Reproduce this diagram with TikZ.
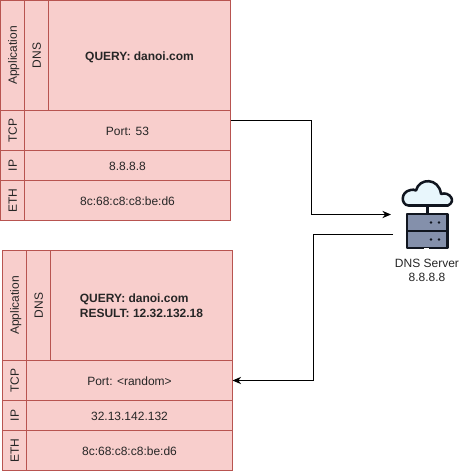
\documentclass[tikz,border=0pt]{standalone}
\usepackage{fontspec}
\setmainfont{Liberation Sans}
\usetikzlibrary{positioning}
\usetikzlibrary{arrows.meta}
\definecolor{cellfill}{HTML}{F8CECC}
\definecolor{celldraw}{HTML}{B85450}
\definecolor{rackfill}{HTML}{8490AB}
\definecolor{cloudfill}{HTML}{E8F6FC}
\definecolor{iconline}{HTML}{10151F}
\tikzset{
  cell/.style 2 args={draw=celldraw, fill=cellfill, line width=0.75pt, inner sep=0pt, outer sep=0pt, anchor=north west, minimum width=#1*0.75pt, minimum height=#2*0.75pt, font=\fontsize{9}{10.5}\selectfont, text=black!85, text height=9pt, text depth=2.25pt},
  vtext/.style={rotate=90, font=\fontsize{9}{10.5}\selectfont, text=black!85, inner sep=0pt, text height=8pt, text depth=1.5pt},
  link/.style={draw=black, line width=0.75pt, -{Stealth[length=6.5pt,width=5.5pt]}},
  iconstroke/.style={draw=iconline, line width=1.9pt, line join=round}
}
\begin{document}
\begin{tikzpicture}[x=0.75pt, y=-0.75pt]
\useasboundingbox (0,0) rectangle (463,471);

% query stack
\node[cell={24}{110}] (appA) at (0.5,0.5) {};
\node[cell={24}{110}] (dnsA) at (24.5,0.5) {};
\node[cell={182}{110}, font=\fontsize{9}{10.5}\selectfont\bfseries] (msgA) at (48.5,0.5) {QUERY: danoi.com};
\node[cell={24}{40}] (tcpA) at (0.5,110.5) {};
\node[cell={206}{40}] (portA) at (24.5,110.5) {Port: 53};
\node[cell={24}{30}] (ipA) at (0.5,150.5) {};
\node[cell={206}{30}] (addrA) at (24.5,150.5) {8.8.8.8};
\node[cell={24}{40}] (ethA) at (0.5,180.5) {};
\node[cell={206}{40}] (macA) at (24.5,180.5) {8c:68:c8:c8:be:d6};

% side labels
\node[vtext] at (appA.center) {Application};
\node[vtext] at (dnsA.center) {DNS};
\node[vtext] at (tcpA.center) {TCP};
\node[vtext] at (ipA.center) {IP};
\node[vtext] at (ethA.center) {ETH};

% answer stack
\node[cell={24}{110}] (appB) at (2.5,250.5) {};
\node[cell={24}{110}] (dnsB) at (26.5,250.5) {};
\node[cell={182}{110}, font=\fontsize{9}{11}\selectfont\bfseries, align=left, text height=, text depth=] (msgB) at (50.5,250.5) {QUERY: danoi.com\\RESULT: 12.32.132.18};
\node[cell={24}{40}] (tcpB) at (2.5,360.5) {};
\node[cell={206}{40}] (portB) at (26.5,360.5) {Port: <random>};
\node[cell={24}{30}] (ipB) at (2.5,400.5) {};
\node[cell={206}{30}] (addrB) at (26.5,400.5) {32.13.142.132};
\node[cell={24}{40}] (ethB) at (2.5,430.5) {};
\node[cell={206}{40}] (macB) at (26.5,430.5) {8c:68:c8:c8:be:d6};

% side labels
\node[vtext] at (appB.center) {Application};
\node[vtext] at (dnsB.center) {DNS};
\node[vtext] at (tcpB.center) {TCP};
\node[vtext] at (ipB.center) {IP};
\node[vtext] at (ethB.center) {ETH};

% server icon
\draw[iconstroke, fill=cloudfill] (408.5,205.5) .. controls (401,205) and (400,192) .. (410.5,190)
  .. controls (412.5,189.5) and (414.5,189.5) .. (416,190.5)
  .. controls (419,177.5) and (439,177.5) .. (441,194)
  .. controls (449,191) and (457,201) .. (448,205.5) -- cycle;
\draw[iconstroke] (427.5,205.5) -- (427.5,214);
\draw[iconstroke, fill=rackfill] (407,214) rectangle (447.5,231);
\draw[iconstroke, fill=rackfill] (407,231) rectangle (447.5,248);
\fill[iconline] (431,222.5) circle (1.4) (439,222.5) circle (1.4) (431,239.5) circle (1.4) (439,239.5) circle (1.4);
\draw[white, line width=0.75pt] (424,248.8) -- (429,248.8);
\node[align=center, font=\fontsize{9}{11}\selectfont, text=black!85, inner sep=0pt] (server) at (427,270.5) {DNS Server\\8.8.8.8};
\coordinate (outA) at (230.5,120.5);
\coordinate (srvin) at (391,214.5);
\coordinate (srvout) at (393,234);

% connectors
\draw[link] (outA) -- (311.5,120.5) -- (311.5,214.5) -- (srvin);
\draw[link] (srvout) -- (313.5,234) -- (313.5,380.5) -- (portB.east);
\end{tikzpicture}
\end{document}
